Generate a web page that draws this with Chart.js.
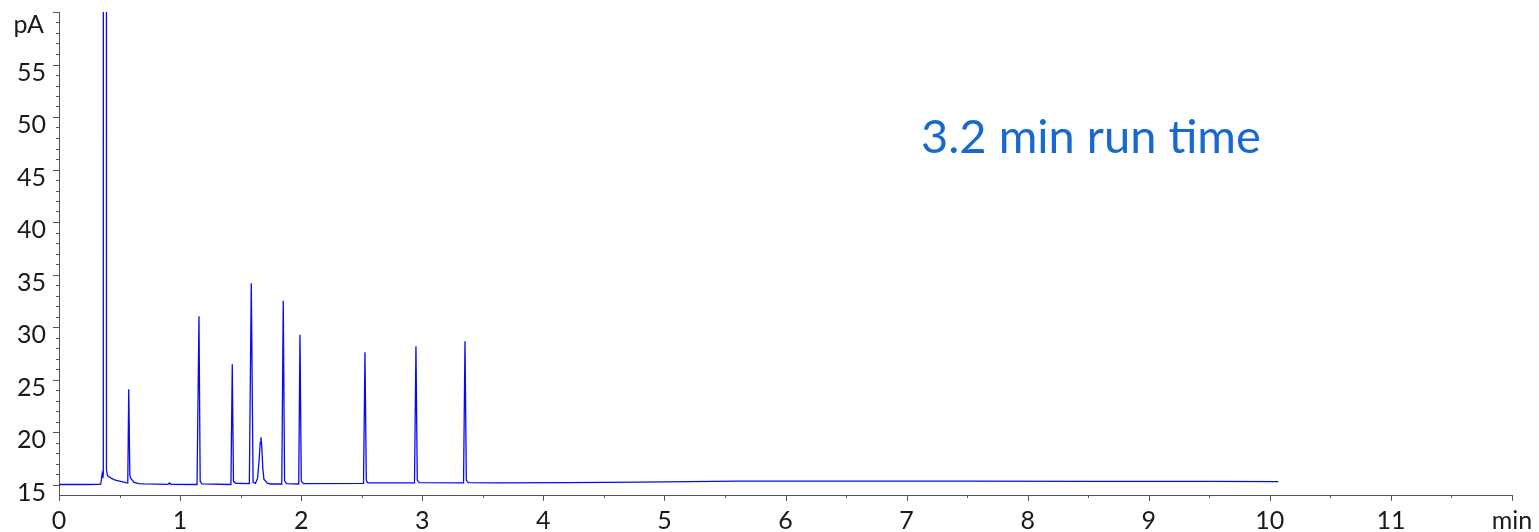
<!DOCTYPE html>
<html>
<head>
<meta charset="utf-8">
<title>FID chromatogram</title>
<script src="https://cdn.jsdelivr.net/npm/chart.js@4.4.1/dist/chart.umd.min.js"></script>
<style>
  html, body { margin: 0; padding: 0; background: #ffffff; }
  canvas { display: block; }
</style>
</head>
<body>
<canvas id="chrom" width="1539" height="532"></canvas>
<script>
// Detector trace: retention time (min) and signal (pA), point by point.
const timeMin = [
  0.000, 0.200, 0.330, 0.345, 0.356, 0.362, 0.366, 0.378, 0.392, 0.400,
  0.430, 0.460, 0.500, 0.535, 0.560, 0.568, 0.576, 0.585, 0.592, 0.620,
  0.660, 0.700, 0.900, 0.912, 0.925, 1.140, 1.147, 1.156, 1.166, 1.180,
  1.420, 1.431, 1.441, 1.460, 1.572, 1.588, 1.603, 1.622, 1.640, 1.652,
  1.662, 1.668, 1.675, 1.683, 1.692, 1.720, 1.750, 1.840, 1.852, 1.863,
  1.880, 1.980, 1.990, 2.001, 2.020, 2.515, 2.527, 2.538, 2.550, 2.936,
  2.948, 2.959, 2.975, 3.341, 3.353, 3.364, 3.380, 3.600, 4.200, 4.800,
  5.200, 5.600, 6.500, 7.500, 8.500, 9.500, 10.070
];
const signalPA = [
  15.00, 15.00, 15.02, 15.05, 16.00, 15.60, 16.00, 4000, 16.40, 15.85,
  15.60, 15.45, 15.32, 15.22, 15.15, 15.15, 24.08, 15.90, 15.60, 15.20,
  15.08, 15.05, 15.02, 15.15, 15.02, 15.00, 15.00, 31.03, 15.30, 15.05,
  15.00, 26.46, 15.30, 15.12, 15.08, 34.17, 15.20, 15.10, 15.60, 17.20,
  19.00, 19.50, 18.60, 16.60, 15.50, 15.12, 15.05, 15.05, 32.50, 15.35,
  15.08, 15.05, 29.27, 15.30, 15.08, 15.10, 27.60, 15.40, 15.15, 15.15,
  28.17, 15.40, 15.17, 15.15, 28.65, 15.40, 15.17, 15.15, 15.17, 15.22,
  15.28, 15.32, 15.33, 15.32, 15.30, 15.29, 15.28
];

// Axis labelling
const xTickValues = [0, 1, 2, 3, 4, 5, 6, 7, 8, 9, 10, 11, 12];
const yTickValues = [15, 20, 25, 30, 35, 40, 45, 50, 55];
const xUnitLabel = 'min';
const yUnitLabel = 'pA';
const runTimeNote = '3.2 min run time';

const FONT_FAMILY = "Lato, 'Open Sans', sans-serif";
const AXIS_COLOR = '#555555';
const LABEL_COLOR = '#1a1a1a';

// Small tick marks along both axes (major/minor), drawn in scale units.
const axisTicks = {
  id: 'axisTicks',
  afterDraw(chart) {
    const { ctx, chartArea, scales } = chart;
    const xs = scales.x, ys = scales.y;
    ctx.save();
    ctx.strokeStyle = AXIS_COLOR;
    ctx.lineWidth = 1;
    ctx.beginPath();
    for (let v = 15; v <= 60; v += 1) {
      const py = Math.round(ys.getPixelForValue(v)) + 0.5;
      const len = v % 5 === 0 ? 6 : 3;
      ctx.moveTo(chartArea.left - len, py);
      ctx.lineTo(chartArea.left, py);
    }
    for (let v = 0; v <= 12; v += 0.5) {
      const px = Math.round(xs.getPixelForValue(v)) + 0.5;
      const len = Number.isInteger(v) ? 6 : 3;
      ctx.moveTo(px, chartArea.bottom);
      ctx.lineTo(px, chartArea.bottom + len);
    }
    ctx.stroke();

    // unit label at the top of the signal axis
    ctx.fillStyle = LABEL_COLOR;
    ctx.font = `400 25px ${FONT_FAMILY}`;
    ctx.textAlign = 'right';
    ctx.textBaseline = 'alphabetic';
    ctx.fillText(yUnitLabel, chartArea.left - 15, 33);
    ctx.restore();
  }
};

// Run-time note in the upper right of the plot
const runTimeLabel = {
  id: 'runTimeLabel',
  afterDraw(chart) {
    const { ctx } = chart;
    ctx.save();
    ctx.fillStyle = '#1769cf';
    ctx.font = `400 47px ${FONT_FAMILY}`;
    ctx.textAlign = 'left';
    ctx.textBaseline = 'alphabetic';
    ctx.fillText(runTimeNote, 921, 153);
    ctx.restore();
  }
};

const points = timeMin.map((t, i) => ({ x: t, y: signalPA[i] }));

new Chart(document.getElementById('chrom'), {
  type: 'line',
  data: {
    datasets: [{
      data: points,
      borderColor: '#0a0af2',
      borderWidth: 1.3,
      pointRadius: 0,
      tension: 0,
      fill: false
    }]
  },
  options: {
    responsive: false,
    animation: false,
    devicePixelRatio: 1,
    layout: { padding: { top: 12, right: 27, left: 0, bottom: 0 } },
    plugins: { legend: { display: false }, tooltip: { enabled: false } },
    scales: {
      x: {
        type: 'linear',
        min: 0,
        max: 12,
        afterBuildTicks: (s) => { s.ticks = xTickValues.map(v => ({ value: v })); },
        afterFit: (s) => { s.height = 37; s.paddingLeft = 0; s.paddingRight = 0; },
        ticks: {
          autoSkip: false,
          maxRotation: 0,
          padding: 11,
          color: LABEL_COLOR,
          font: { family: FONT_FAMILY, size: 25, weight: '400' },
          callback: (v) => (v === 12 ? xUnitLabel : String(v))
        },
        grid: { drawOnChartArea: false, drawTicks: false },
        border: { color: AXIS_COLOR, width: 1 }
      },
      y: {
        type: 'linear',
        min: 14,
        max: 60,
        afterBuildTicks: (s) => { s.ticks = yTickValues.map(v => ({ value: v })); },
        afterFit: (s) => { s.width = 59; s.paddingTop = 0; s.paddingBottom = 0; },
        ticks: {
          autoSkip: false,
          padding: 13,
          labelOffset: 8,
          color: LABEL_COLOR,
          font: { family: FONT_FAMILY, size: 25, weight: '400' },
          callback: (v) => String(v)
        },
        grid: { drawOnChartArea: false, drawTicks: false },
        border: { color: AXIS_COLOR, width: 1 }
      }
    }
  },
  plugins: [axisTicks, runTimeLabel]
});
</script>
</body>
</html>
